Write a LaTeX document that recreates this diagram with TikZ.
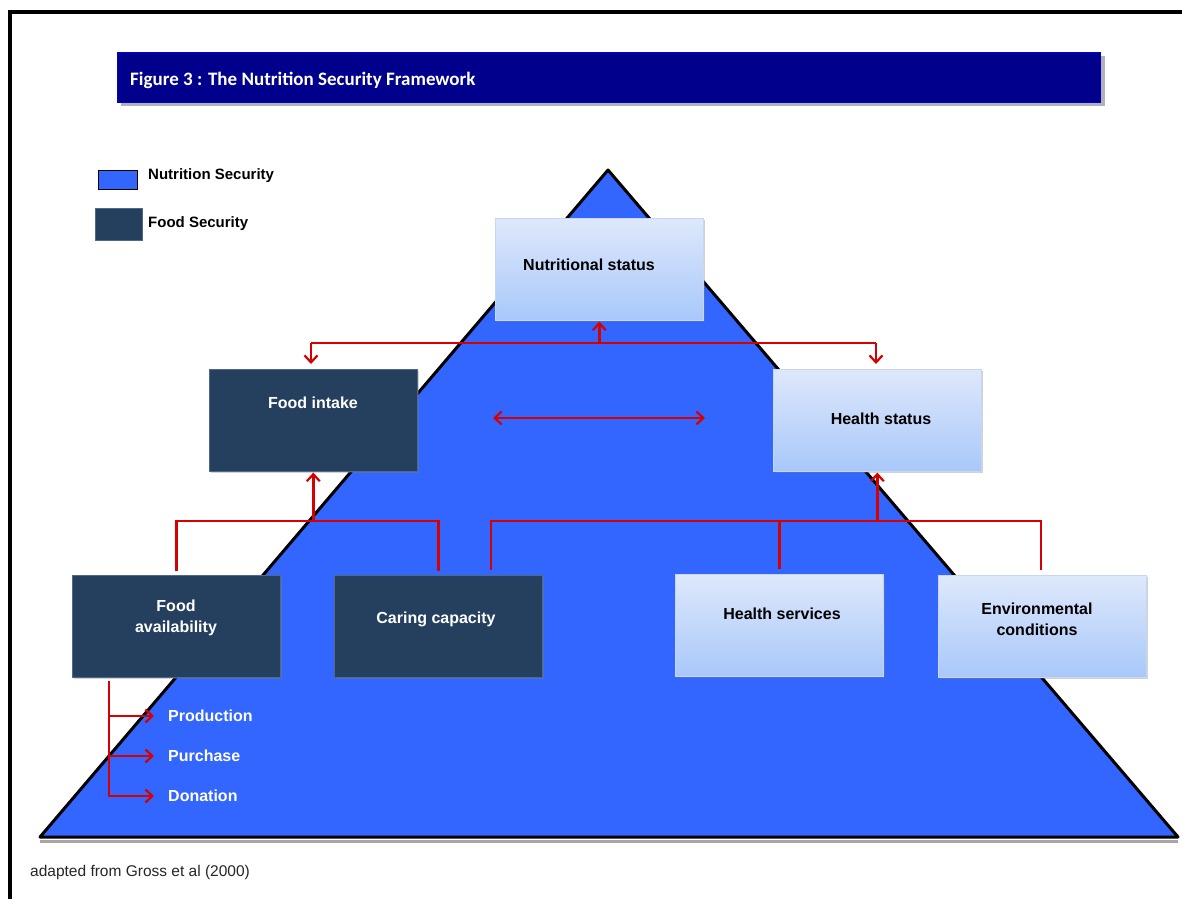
\documentclass[tikz,border=0pt]{standalone}
\usepackage{fontspec}
\setmainfont{Liberation Sans}
\newfontfamily\titlefont{Carlito}
\usetikzlibrary{arrows.meta,shadows}
\definecolor{triblue}{RGB}{51,102,255}
\definecolor{titleblue}{RGB}{0,0,140}
\definecolor{darkbox}{RGB}{37,63,95}
\definecolor{darkedge}{RGB}{80,105,135}
\definecolor{lighttop}{RGB}{222,232,251}
\definecolor{lightbot}{RGB}{168,200,250}
\definecolor{lightedge}{RGB}{200,215,240}
\definecolor{arrred}{RGB}{215,0,0}
\begin{document}
\begin{tikzpicture}[x=1pt,y=-1pt,
  boxbase/.style={minimum width=208pt, minimum height=102pt, anchor=north west, inner sep=0pt,
    drop shadow={shadow xshift=2pt, shadow yshift=-2pt, opacity=0.35}},
  dbox/.style={boxbase, fill=darkbox, draw=darkedge, line width=0.6pt},
  lbox/.style={boxbase, top color=lighttop, bottom color=lightbot, draw=lightedge, line width=0.6pt},
  wtext/.style={text=white, font=\fontsize{16}{21}\selectfont\bfseries, align=center, inner sep=0pt},
  btext/.style={text=black, font=\fontsize{16}{21}\selectfont\bfseries, align=center, inner sep=0pt},
  rl/.style={draw=arrred, line width=2.5pt},
  tip/.tip={Straight Barb[length=7pt,width=13pt,line width=2.2pt]},
]
\useasboundingbox (0,0) rectangle (1182,899);
\fill[white] (0,0) rectangle (1182,899);
% frame
\draw[line width=4pt] (10,899) -- (10,12) -- (1182,12);
% title bar
\fill[gray!60] (121,56) rectangle (1105,106);
\node[fill=titleblue, draw=blue!60!titleblue, line width=0.8pt, minimum width=983pt, minimum height=50pt, anchor=north west, inner sep=0pt] (title) at (117,52) {};
\node[anchor=west, text=white, font=\titlefont\fontsize{19}{21}\selectfont\bfseries, inner sep=0pt] (titletext) at (130,80) {Figure 3 : The Nutrition Security Framework};
% pyramid
\draw[gray!70, line width=3pt] (40,841) -- (1178,841);
\draw[line width=3pt, fill=triblue, line join=round] (608,170) -- (1178,837) -- (40,837) -- cycle;
% legend
\node[draw=black, fill=triblue, line width=0.8pt, minimum width=39pt, minimum height=19pt, anchor=north west, inner sep=0pt] (lg1) at (98,170) {};
\node[anchor=west, btext, font=\fontsize{15}{17}\selectfont\bfseries] (lt1) at (148,176) {Nutrition Security};
\node[fill=darkbox, draw=darkedge, line width=1pt, minimum width=47pt, minimum height=32pt, anchor=north west, inner sep=0pt] (lg2) at (95,208) {};
\node[anchor=west, btext, font=\fontsize{15}{17}\selectfont\bfseries] (lt2) at (148,224) {Food Security};
% boxes
\node[lbox] (ns) at (495,218) {};
\node[btext] (nst) at (589,265) {Nutritional status};
\node[dbox] (fi) at (209,369) {};
\node[wtext] (fit) at (313,403) {Food intake};
\node[lbox] (hst) at (773,369) {};
\node[btext] (hstt) at (881,419) {Health status};
\node[dbox] (fa) at (72,575) {};
\node[wtext] (fat) at (176,618) {Food\\availability};
\node[dbox] (cc) at (334,575) {};
\node[wtext] (cct) at (436,619) {Caring capacity};
\node[lbox] (hs) at (675,574) {};
\node[btext] (hst2) at (782,614) {Health services};
\node[lbox] (en) at (938,575) {};
\node[btext] (ent) at (1037,619) {Environmental\\conditions};
% top connector
\coordinate (tl) at (311,343);
\coordinate (tr) at (876,343);
\draw[rl] (tl) -- (tr);
\draw[rl,-tip] (tl) -- ([yshift=5pt]fi.north -| tl);
\draw[rl,-tip] (tr) -- ([yshift=5pt]hst.north -| tr);
\draw[rl,-tip] (ns.south |- tl) -- ([yshift=-1pt]ns.south);
% middle double arrow
\coordinate (ma) at (493,418);
\coordinate (mb) at (705,418);
\draw[rl,tip-tip] (ma) -- (mb);
% left bracket
\coordinate (lb) at (311,521);
\draw[rl] ([yshift=4pt]fa.north) |- (lb) -| ([yshift=4pt]cc.north);
\draw[rl,-tip] (fi.south |- lb) -- ([yshift=-1pt]fi.south);
% right bracket
\coordinate (rb) at (491,521);
\draw[rl] ([yshift=5pt]cc.north -| rb) -- (rb) -- (rb -| 1041,0) -- ([yshift=5pt]en.north -| 1041,0);
\draw[rl] ([yshift=5pt]hs.north) -- (hs.north |- rb);
\draw[rl,-tip] (hst.south |- rb) -- ([yshift=-1pt]hst.south);
% food availability sources
\node[wtext, anchor=west] (prod) at (168,716) {Production};
\node[wtext, anchor=west] (purc) at (168,756) {Purchase};
\node[wtext, anchor=west] (dona) at (168,796) {Donation};
\coordinate (sx) at (109,797);
\draw[rl] ([yshift=-3pt]fa.south -| sx) -- (sx);
\draw[rl,-tip] (prod.west -| sx) -- ([xshift=-14pt]prod.west);
\draw[rl,-tip] (purc.west -| sx) -- ([xshift=-14pt]purc.west);
\draw[rl,-tip] (dona.west -| sx) -- ([xshift=-14pt]dona.west);
% footer
\node[anchor=west, inner sep=0pt, text=black!85, font=\fontsize{15.5}{17}\selectfont] (foot) at (30,872) {adapted from Gross et al (2000)};
\end{tikzpicture}
\end{document}
